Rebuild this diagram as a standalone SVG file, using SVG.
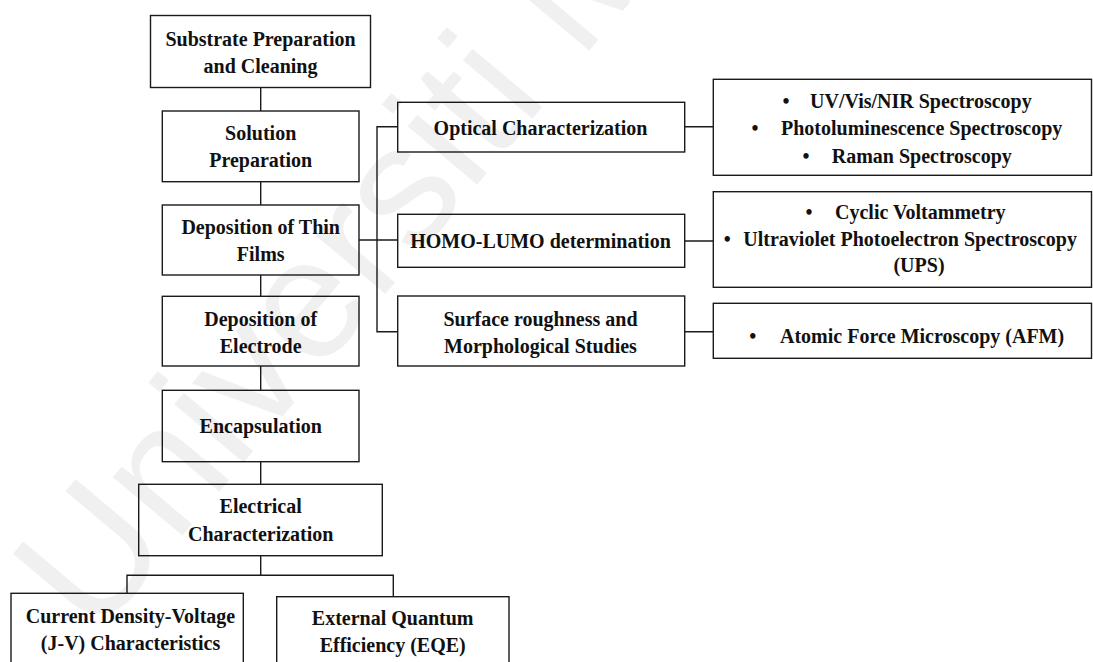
<svg xmlns="http://www.w3.org/2000/svg" width="1093" height="662" viewBox="0 0 1093 662">
<style>
.box{fill:#fff;stroke:#1a1a1a;stroke-width:1.4}
.t{font-family:"Liberation Serif","Times New Roman",serif;font-weight:bold;font-size:20px;fill:#111;text-anchor:middle}
.s{text-anchor:start}
.c{fill:none;stroke:#1a1a1a;stroke-width:1.4}
.wm{font-family:"Liberation Sans",Arial,sans-serif;font-size:172px;fill:#000;fill-opacity:0.06}
</style>
<rect width="1093" height="662" fill="#fff"/>
<g id="connectors">
<path class="c" d="M260.7 87.3V111M260.7 181.7V205M260.7 275V296.3M260.7 366V390.3M260.7 461.7V484.3M260.7 555.7V575.3M127 593.3V575.3H393.3V596.7"/>
<path class="c" d="M359 240H397.7M397.7 126.7H377V331.7H397.7"/>
<path class="c" d="M684.7 126.7H713.3M684.7 241H713.3M684.7 331.7H713.3"/>
</g>
<g id="substrate"><rect class="box" x="150.5" y="15.5" width="220" height="72"/><text class="t" x="260.5" y="46">Substrate Preparation</text><text class="t" x="260.5" y="73">and Cleaning</text></g>
<g id="solution"><rect class="box" x="162.3" y="111" width="196.7" height="70.7"/><text class="t" x="260.7" y="139.5">Solution</text><text class="t" x="260.7" y="167">Preparation</text></g>
<g id="thinfilms"><rect class="box" x="162.3" y="205" width="196.7" height="70"/><text class="t" x="260.7" y="233.5">Deposition of Thin</text><text class="t" x="260.7" y="260.5">Films</text></g>
<g id="electrode"><rect class="box" x="162.3" y="296.3" width="196.7" height="69.7"/><text class="t" x="260.7" y="326">Deposition of</text><text class="t" x="260.7" y="353">Electrode</text></g>
<g id="encapsulation"><rect class="box" x="162.3" y="390.3" width="196.7" height="71.4"/><text class="t" x="260.7" y="433">Encapsulation</text></g>
<g id="electrical"><rect class="box" x="138.7" y="484.3" width="243.6" height="71.4"/><text class="t" x="260.7" y="513">Electrical</text><text class="t" x="260.7" y="540.5">Characterization</text></g>
<g id="jv"><rect class="box" x="11" y="593.3" width="232.3" height="80"/><text class="t" x="130.5" y="623.3">Current Density-Voltage</text><text class="t" x="130.5" y="650">(J-V) Characteristics</text></g>
<g id="eqe"><rect class="box" x="276.7" y="596.7" width="232.3" height="80"/><text class="t" x="392.7" y="625">External Quantum</text><text class="t" x="392.7" y="651.5">Efficiency (EQE)</text></g>
<g id="optical"><rect class="box" x="397.7" y="102.3" width="287" height="49.7"/><text class="t" x="540.5" y="135">Optical Characterization</text></g>
<g id="homolumo"><rect class="box" x="397.7" y="214.3" width="287" height="53"/><text class="t" x="540.5" y="248.3">HOMO-LUMO determination</text></g>
<g id="surface"><rect class="box" x="397.7" y="296" width="287" height="70"/><text class="t" x="540.5" y="326">Surface roughness and</text><text class="t" x="540.5" y="352.5">Morphological Studies</text></g>
<g id="opticalmethods"><rect class="box" x="713.3" y="79.3" width="378.2" height="96"/>
<text class="t" x="786" y="107.5">•</text><text class="t s" x="810" y="107.5">UV/Vis/NIR Spectroscopy</text>
<text class="t" x="755" y="135">•</text><text class="t s" x="781" y="135">Photoluminescence Spectroscopy</text>
<text class="t" x="806" y="163">•</text><text class="t s" x="831.7" y="163">Raman Spectroscopy</text></g>
<g id="homolumomethods"><rect class="box" x="713.3" y="191.7" width="378.2" height="95.6"/>
<text class="t" x="809" y="218.5">•</text><text class="t s" x="835" y="218.5">Cyclic Voltammetry</text>
<text class="t" x="727.3" y="246">•</text><text class="t s" x="743.3" y="246">Ultraviolet Photoelectron Spectroscopy</text>
<text class="t" x="919" y="272">(UPS)</text></g>
<g id="afm"><rect class="box" x="713.3" y="303.3" width="378.2" height="55"/>
<text class="t" x="752.7" y="343">•</text><text class="t s" x="780" y="343">Atomic Force Microscopy (AFM)</text></g>
<text class="wm" transform="translate(95 640) rotate(-50)">Universiti M</text>
</svg>
